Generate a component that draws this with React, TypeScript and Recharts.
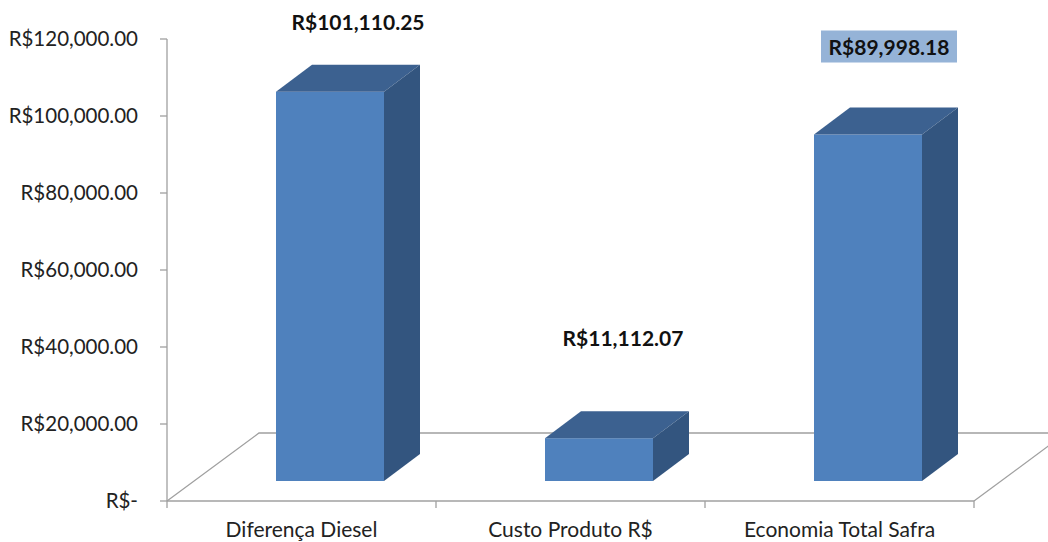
import { BarChart, Bar, XAxis, YAxis, Customized } from "recharts";

const categories = ["Diferença Diesel", "Custo Produto R$", "Economia Total Safra"];
const values = [101110.25, 11112.07, 89998.18];
const yTicks = [0, 20000, 40000, 60000, 80000, 100000, 120000];

const data = categories.map((name, i) => ({ name, value: values[i] }));

// layout
const W = 1048;
const H = 542;
const X_AXIS_H = 30;
const M = { top: 39, right: 74, bottom: 11, left: 0 };
const Y_AXIS_W = 167;
const PLOT = { x: Y_AXIS_W, y: M.top, w: W - Y_AXIS_W - M.right, h: H - M.top - M.bottom - X_AXIS_H };

const FONT = "Lato, 'Open Sans', sans-serif";
const LINE = "#a0a0a0";
const FRONT = "#4f81bd";
const TOP = "#3c6190";
const SIDE = "#33557f";

// 3D look
const DEPTH_X = 36;
const DEPTH_Y = 27;
const SHIFT_X = 28;
const LIFT = 20;
const FLOOR_X = 92;
const FLOOR_Y = 68;
const LABEL_NUDGE = [
  { dx: 28, dy: -70 },
  { dx: 24, dy: -101 },
  { dx: 21, dy: -88 },
];

const fmt = (v: number) =>
  v === 0 ? "R$-" : "R$" + v.toLocaleString("en-US", { minimumFractionDigits: 2, maximumFractionDigits: 2 });

function Floor() {
  const x0 = PLOT.x;
  const x1 = PLOT.x + PLOT.w;
  const yb = PLOT.y + PLOT.h;
  const step = PLOT.w / categories.length;
  return (
    <g>
      <polyline
        points={`${x0},${yb} ${x0 + FLOOR_X},${yb - FLOOR_Y} ${x1 + FLOOR_X},${yb - FLOOR_Y}`}
        fill="none"
        stroke={LINE}
        strokeWidth={1.3}
      />
      <line x1={x1} y1={yb} x2={x1 + FLOOR_X} y2={yb - FLOOR_Y} stroke={LINE} strokeWidth={1.3} />
      {Array.from({ length: categories.length + 1 }, (_, i) => (
        <line key={i} x1={x0 + i * step} y1={yb} x2={x0 + i * step} y2={yb + 7} stroke={LINE} strokeWidth={1.3} />
      ))}
    </g>
  );
}

function Bar3D(props: any) {
  const { x, y, width, height, index, payload } = props;
  const fx = x + SHIFT_X;
  const top = y - LIFT;
  const bottom = y + height - LIFT;
  const n = LABEL_NUDGE[index] || { dx: 24, dy: -80 };
  const lx = fx + width / 2 + n.dx;
  const ly = top + n.dy;
  const text = fmt(payload.value);
  return (
    <g>
      <rect x={fx} y={top} width={width} height={bottom - top} fill={FRONT} />
      <polygon
        points={`${fx},${top} ${fx + DEPTH_X},${top - DEPTH_Y} ${fx + width + DEPTH_X},${top - DEPTH_Y} ${fx + width},${top}`}
        fill={TOP}
      />
      <polygon
        points={`${fx + width},${top} ${fx + width + DEPTH_X},${top - DEPTH_Y} ${fx + width + DEPTH_X},${bottom - DEPTH_Y} ${fx + width},${bottom}`}
        fill={SIDE}
      />
      {index === 2 && <rect x={lx - 68} y={ly - 16} width={136} height={32} fill="#95b3d7" />}
      <text
        x={lx}
        y={ly}
        textAnchor="middle"
        dominantBaseline="central"
        fontFamily={FONT}
        fontSize={21}
        fontWeight="bold"
        fill="#111"
      >
        {text}
      </text>
    </g>
  );
}

export default function App() {
  return (
    <div style={{ position: "absolute", left: 0, top: 0, width: W, height: H, background: "#fff" }}>
      <BarChart width={W} height={H} data={data} margin={M} barSize={108}>
        <Customized component={Floor} />
        <XAxis
          dataKey="name"
          height={X_AXIS_H}
          axisLine={{ stroke: LINE, strokeWidth: 1.3 }}
          tickLine={false}
          tickMargin={15}
          tick={{ fill: "#222", fontSize: 21, fontFamily: FONT }}
          interval={0}
        />
        <YAxis
          width={Y_AXIS_W}
          domain={[0, 120000]}
          ticks={yTicks}
          tickFormatter={fmt}
          axisLine={{ stroke: LINE, strokeWidth: 1.3 }}
          tickLine={{ stroke: LINE, strokeWidth: 1.3 }}
          tickSize={7}
          tickMargin={22}
          tick={{ fill: "#222", fontSize: 20.5, fontFamily: FONT }}
        />
        <Bar dataKey="value" shape={Bar3D} isAnimationActive={false} />
      </BarChart>
    </div>
  );
}
